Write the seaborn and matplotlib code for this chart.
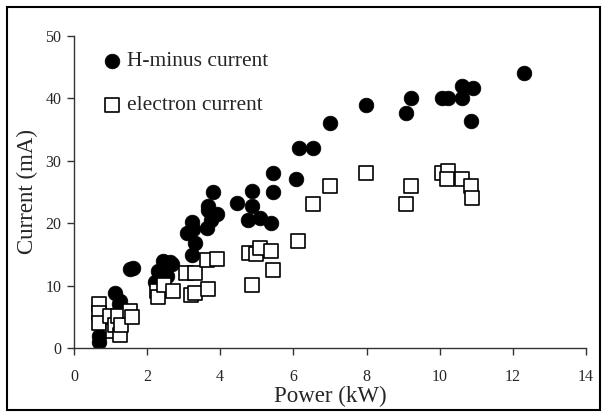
import pandas as pd
import matplotlib
matplotlib.use('Agg')
import matplotlib.pyplot as plt
import seaborn as sns
from matplotlib.patches import Rectangle

# --- data ---
h_power = [0.69, 0.69, 1.12, 1.26, 1.22, 1.30, 1.53, 1.62, 2.21, 2.30, 2.44, 2.62,
           2.67, 2.55, 3.08, 3.22, 3.25, 3.31, 3.22, 3.63, 3.67, 3.66, 3.76, 3.81,
           3.90, 4.45, 4.86, 4.86, 4.76, 5.08, 5.40, 5.43, 5.43, 6.07, 6.15, 6.54,
           7.01, 7.98, 9.07, 9.22, 10.05, 10.23, 10.62, 10.62, 10.91, 10.85, 12.30]
h_current = [1.0, 2.0, 8.8, 7.6, 7.0, 6.2, 12.6, 12.9, 10.5, 12.3, 14.0, 13.8,
             13.5, 11.5, 18.4, 20.2, 19.0, 16.8, 14.9, 19.2, 22.1, 22.8, 20.5, 25.0,
             21.4, 23.2, 25.2, 22.7, 20.5, 20.8, 20.0, 28.0, 25.0, 27.0, 32.0, 32.0,
             36.0, 39.0, 37.6, 40.0, 40.0, 40.0, 40.0, 42.0, 41.6, 36.4, 44.0]

e_power = [0.69, 0.69, 0.69, 0.98, 1.07, 1.12, 1.21, 1.26, 1.30, 1.53, 1.58, 2.26,
           2.30, 2.46, 2.71, 3.06, 3.31, 3.20, 3.31, 3.63, 3.67, 3.90, 4.79, 4.99,
           4.86, 5.10, 5.40, 5.43, 6.13, 6.54, 7.01, 7.98, 9.07, 9.22, 10.05, 10.23,
           10.20, 10.62, 10.86, 10.89]
e_current = [7.0, 5.6, 4.0, 5.1, 2.7, 3.7, 5.1, 2.1, 3.7, 6.0, 4.9, 9.1,
             8.2, 10.1, 9.1, 12.0, 12.0, 8.5, 8.8, 14.1, 9.4, 14.2, 15.3, 15.0,
             10.1, 16.0, 15.6, 12.5, 17.1, 23.1, 26.0, 28.0, 23.1, 26.0, 28.0, 28.3,
             27.1, 27.1, 26.0, 24.0]

df_h = pd.DataFrame({'Power': h_power, 'Current': h_current})
df_e = pd.DataFrame({'Power': e_power, 'Current': e_current})

sns.set_style('white')
plt.rcParams['font.family'] = ['Liberation Serif', 'DejaVu Serif']

fig = plt.figure(figsize=(6.06, 4.15), dpi=100)
ax = fig.add_axes([0.122, 0.1614, 0.845, 0.752])

# H-minus first, electron squares drawn on top (as in the original)
sns.scatterplot(data=df_h, x='Power', y='Current', ax=ax, marker='o', s=112,
                color='black', edgecolor='black', linewidth=0.5,
                label='H-minus current', zorder=2)
sns.scatterplot(data=df_e, x='Power', y='Current', ax=ax, marker='s', s=92,
                color='white', edgecolor='black', linewidth=1.2,
                label='electron current', zorder=3)

ax.set_xlim(0, 14)
ax.set_ylim(0, 50)
ax.set_xticks(range(0, 15, 2))
ax.set_yticks(range(0, 51, 10))
ax.set_xlabel('Power (kW)', fontsize=16.5, labelpad=1)
ax.set_ylabel('Current (mA)', fontsize=16.5, labelpad=5)

for side in ['top', 'right']:
    ax.spines[side].set_visible(False)
for side in ['left', 'bottom']:
    ax.spines[side].set_color('#333333')
    ax.spines[side].set_linewidth(1.0)
ax.tick_params(direction='out', length=5, width=1, color='#333333',
               labelsize=11.5, left=True, bottom=True)
ax.tick_params(axis='x', pad=10)
ax.tick_params(axis='y', pad=4)

leg = ax.legend(loc='upper left', bbox_to_anchor=(0.041, 0.978), frameon=False,
                fontsize=15.5, labelspacing=1.1, handletextpad=0.3,
                handlelength=0.8, borderaxespad=0)

# outer frame around the whole picture
fig.patches.append(Rectangle((7 / 606, 5 / 415), 593 / 606, 403 / 415,
                             transform=fig.transFigure, fill=False,
                             edgecolor='black', linewidth=1.5))

plt.savefig('out.png', dpi=100)
